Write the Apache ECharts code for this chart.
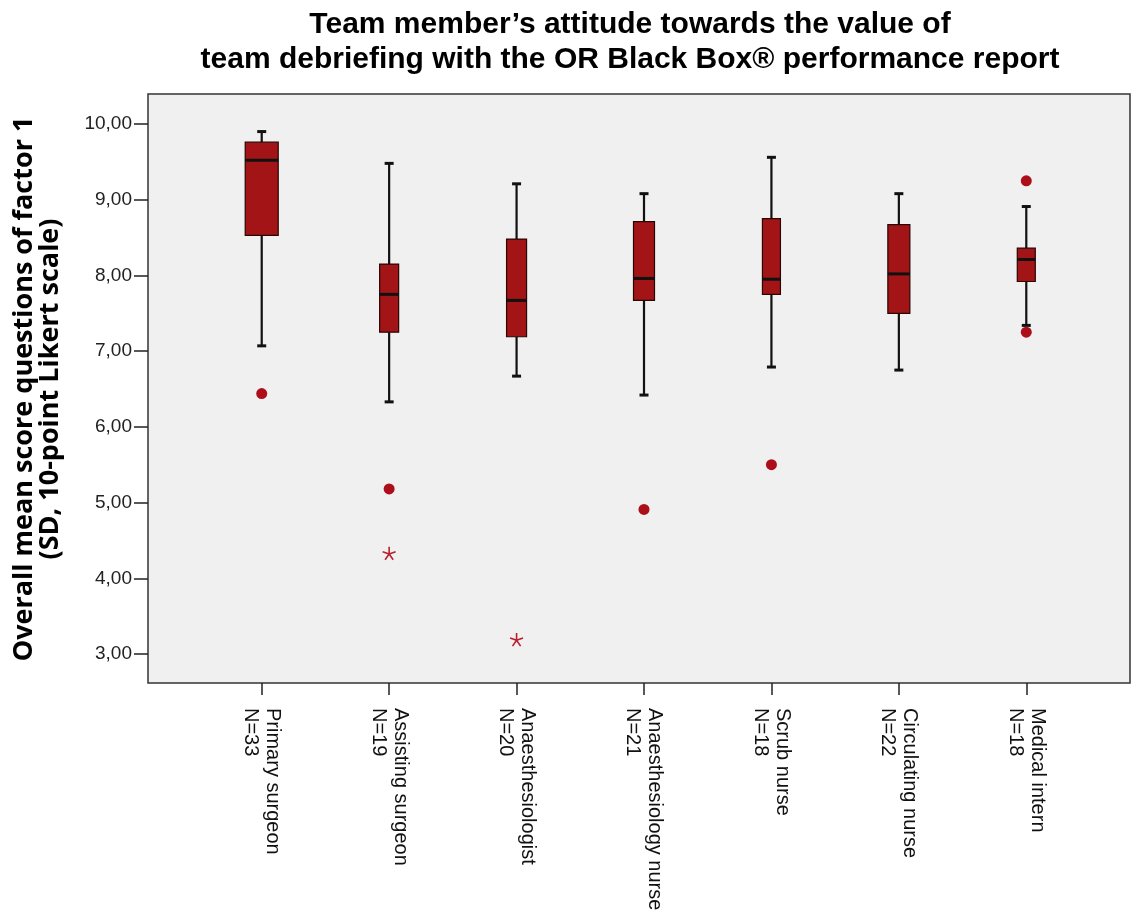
<!DOCTYPE html>
<html>
<head>
<meta charset="utf-8">
<script src="https://cdn.jsdelivr.net/npm/echarts@6/dist/echarts.min.js"></script>
<style>
html,body{margin:0;padding:0;background:#fff;}
#chart{width:1137px;height:915px;}
</style>
</head>
<body>
<div id="chart"></div>
<script>
// ---- data ----
const categories = ['Primary surgeon', 'Assisting surgeon', 'Anaesthesiologist', 'Anaesthesiology nurse', 'Scrub nurse', 'Circulating nurse', 'Medical intern'];
const nCounts = [33, 19, 20, 21, 18, 22, 18];
const whiskerLow = [7.07, 6.33, 6.67, 6.42, 6.79, 6.75, 7.34];
const q1 = [8.53, 7.25, 7.19, 7.67, 7.75, 7.50, 7.92];
const median = [9.52, 7.75, 7.67, 7.96, 7.95, 8.02, 8.21];
const q3 = [9.76, 8.15, 8.48, 8.71, 8.75, 8.67, 8.36];
const whiskerHigh = [9.90, 9.48, 9.21, 9.08, 9.56, 9.08, 8.91];
const outlierCat = [0, 1, 3, 4, 6, 6];
const outlierVal = [6.44, 5.18, 4.91, 5.50, 9.25, 7.25];
const extremeCat = [1, 2];
const extremeVal = [4.33, 3.19];
const yTicks = [3, 4, 5, 6, 7, 8, 9, 10];
const titleLines = ['Team member\u2019s attitude towards the value of', 'team debriefing with the OR Black Box\u00AE performance report'];
const yName = ['Overall mean score questions of factor 1', '(SD, 10-point Likert scale)'];

// ---- build ----
const labels = categories.map((c, i) => c + '\nN=' + nCounts[i]);
const boxData = categories.map((c, i) => [i, whiskerLow[i], q1[i], median[i], q3[i], whiskerHigh[i]]);
const outliers = outlierCat.map((c, i) => [c, outlierVal[i]]);
const extremes = extremeCat.map((c, i) => [c, extremeVal[i]]);

const chart = echarts.init(document.getElementById('chart'), null, {renderer: 'canvas'});

function renderBox(params, api) {
  const i = api.value(0);
  const x = api.coord([i, 0])[0];
  const yMin = api.coord([i, api.value(1)])[1];
  const yQ1 = api.coord([i, api.value(2)])[1];
  const yMed = api.coord([i, api.value(3)])[1];
  const yQ3 = api.coord([i, api.value(4)])[1];
  const yMax = api.coord([i, api.value(5)])[1];
  const half = nCounts[params.dataIndex] / 2;
  const cap = 4.5;
  const dark = '#111';
  return {
    type: 'group',
    children: [
      {type: 'line', shape: {x1: x, y1: yQ3, x2: x, y2: yMax}, style: {stroke: dark, lineWidth: 2.2}},
      {type: 'line', shape: {x1: x, y1: yQ1, x2: x, y2: yMin}, style: {stroke: dark, lineWidth: 2.2}},
      {type: 'line', shape: {x1: x - cap, y1: yMax, x2: x + cap, y2: yMax}, style: {stroke: dark, lineWidth: 3}},
      {type: 'line', shape: {x1: x - cap, y1: yMin, x2: x + cap, y2: yMin}, style: {stroke: dark, lineWidth: 3}},
      {type: 'rect', shape: {x: x - half, y: yQ3, width: half * 2, height: yQ1 - yQ3}, style: {fill: '#A31416', stroke: '#2a0505', lineWidth: 1.2}},
      {type: 'line', shape: {x1: x - half, y1: yMed, x2: x + half, y2: yMed}, style: {stroke: dark, lineWidth: 3}}
    ]
  };
}

const option = {
  backgroundColor: '#ffffff',
  animation: false,
  graphic: [{
    type: 'text', x: 630, y: 7, z: 10,
    style: {
      text: titleLines.join('\n'),
      textAlign: 'center', textVerticalAlign: 'top',
      font: 'bold 30px "Liberation Sans", Arial, sans-serif',
      lineHeight: 35, fill: '#000'
    }
  }],
  grid: [
    {left: 198, right: 47, top: 124, bottom: 261, show: false, outerBoundsMode: 'none', containLabel: false},
    {left: 148, right: 7, top: 94, bottom: 232, show: true, outerBoundsMode: 'none', containLabel: false,
      backgroundColor: '#F0F0F0', borderColor: '#333', borderWidth: 1.5}
  ],
  xAxis: [
    {
      type: 'category', gridIndex: 0, data: labels, offset: 29,
      axisLine: {show: false},
      axisTick: {show: true, alignWithLabel: true, length: 12, lineStyle: {color: '#222', width: 1.5}},
      axisLabel: {rotate: -90, fontSize: 20, lineHeight: 22, margin: 25, color: '#111', fontFamily: '"Liberation Sans", Arial, sans-serif', interval: 0},
      splitLine: {show: false}
    },
    {type: 'value', gridIndex: 1, show: false}
  ],
  yAxis: [
    {
      type: 'value', gridIndex: 0, min: 3, max: 10, interval: 1, offset: 50,
      axisLine: {show: false},
      axisTick: {show: true, length: 14, lineStyle: {color: '#222', width: 1.5}},
      axisLabel: {fontSize: 19, margin: 16, color: '#222', fontFamily: '"Liberation Sans", Arial, sans-serif',
        formatter: v => yTicks.indexOf(v) >= 0 ? v.toFixed(2).replace('.', ',') : ''},
      splitLine: {show: false},
      name: yName.join('\n'), nameLocation: 'middle', nameGap: 85, nameRotate: 90,
      nameTextStyle: {fontSize: 27, fontWeight: 'bold', lineHeight: 26, color: '#000', fontFamily: '"Open Sans", "Noto Sans", sans-serif'}
    },
    {type: 'value', gridIndex: 1, show: false}
  ],
  series: [
    {
      type: 'custom', name: 'box', xAxisIndex: 0, yAxisIndex: 0,
      renderItem: renderBox, data: boxData,
      encode: {x: 0, y: [1, 2, 3, 4, 5]}, z: 3
    },
    {
      type: 'scatter', name: 'outliers', xAxisIndex: 0, yAxisIndex: 0,
      data: outliers, symbol: 'circle', symbolSize: 11,
      itemStyle: {color: '#AC0E1A', opacity: 1}, z: 4
    },
    {
      type: 'scatter', name: 'extremes', xAxisIndex: 0, yAxisIndex: 0,
      data: extremes,
      symbol: 'path://M0,0 L0,-10 M0,0 L9.5,-3.1 M0,0 L5.9,8.1 M0,0 L-5.9,8.1 M0,0 L-9.5,-3.1',
      symbolSize: 13,
      itemStyle: {color: 'none', borderColor: '#B8202E', borderWidth: 1.6, opacity: 1}, z: 4
    }
  ]
};
chart.setOption(option);
</script>
</body>
</html>
